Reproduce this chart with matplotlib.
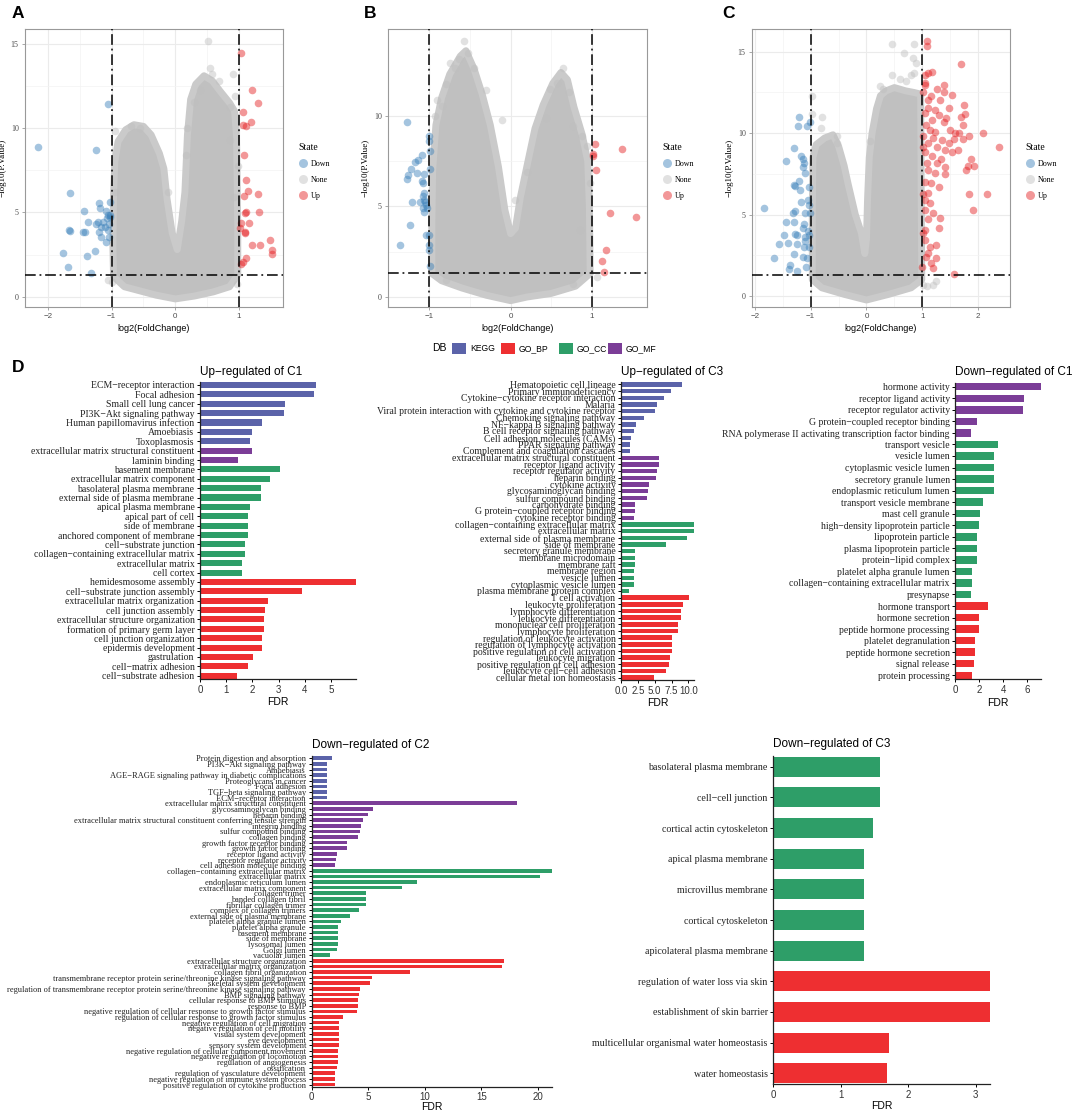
import numpy as np
import matplotlib.pyplot as plt
from matplotlib.lines import Line2D
from matplotlib.patches import Rectangle

W, H = 1072, 1110
SERIF = 'Liberation Serif'
SANS = 'Liberation Sans'

# ---------------- volcano data ----------------
# dense grey "None" cloud is drawn as its outline, plus the loose grey points
a_cloud_x = [0, -0.3, -0.6, -0.8, -0.97, -0.98, -0.97, -0.95, -0.9, -0.78, -0.65, -0.5, -0.38, -0.25, -0.18,
             -0.13, -0.05, 0.03, 0.1, 0.15, 0.19, 0.24, 0.32, 0.45, 0.58, 0.7, 0.85, 0.93, 0.96, 0.97, 0.98,
             0.98, 0.85, 0.6, 0.3]
a_cloud_y = [-0.12, 0.1, 0.4, 0.6, 1.2, 3, 6, 8, 9.2, 9.9, 10.2, 10.1, 9.6, 8.5, 7.6,
             5.8, 3.8, 2.8, 4.5, 6.2, 9.6, 11.7, 12.6, 13.1, 12.8, 12.2, 11.5, 11.0, 9.5, 7, 4,
             1.3, 0.6, 0.3, 0.05]
a_none_x = [0.52, 0.54, 0.58, 0.68, 0.9, 0.94, 0.86, -0.94, -0.7, -0.55, 0.29, 0.39, 0.19, 0.16, -0.11,
            -0.99, -1.06, 0.97, -0.94, 0.92, 0.86, 0.98]
a_none_y = [15.16, 13.57, 13.18, 12.78, 13.18, 11.89, 11.25, 9.81, 10.1, 10.0, 11.53, 12.28, 10.0, 8.42, 6.24,
            0.89, 0.99, 0.79, 6.24, 5.94, 9.31, 7.73]
a_down_x = [-2.16, -1.05, -1.25, -1.65, -1.2, -1.18, -1.44, -1.09, -1.03, -1.06, -1.03, -1.37, -1.22, -1.14,
            -1.24, -1.17, -1.1, -1.04, -1.67, -1.65, -1.45, -1.42, -1.2, -1.05, -1.16, -1.09, -1.04, -1.77,
            -1.39, -1.26, -1.69, -1.32, -1.02, -1.08]
a_down_y = [8.88, 11.43, 8.68, 6.18, 5.55, 5.25, 5.09, 5.09, 5.6, 4.85, 4.85, 4.46, 4.46, 4.46,
            4.32, 4.16, 4.16, 4.32, 3.96, 3.92, 3.82, 3.82, 3.82, 3.96, 3.57, 3.27, 3.57, 2.62,
            2.44, 2.71, 1.78, 1.39, 4.76, 4.66]
a_up_x = [1.03, 1.21, 1.29, 1.06, 1.06, 1.11, 1.19, 1.07, 1.11, 1.14, 1.29, 1.07, 1.11, 1.09, 1.31, 1.03,
          1.15, 1.02, 1.09, 1.1, 1.49, 1.21, 1.33, 1.52, 1.51, 1.11, 1.06, 1.03]
a_up_y = [14.42, 12.23, 11.49, 10.94, 10.2, 10.14, 10.34, 8.38, 6.93, 6.28, 6.08, 5.98, 5.03, 4.99, 5.03, 4.4,
          4.4, 4.1, 3.86, 3.76, 3.37, 3.07, 3.07, 2.77, 2.52, 2.28, 2.08, 1.94]

b_cloud_x = [0, -0.3, -0.6, -0.85, -0.97, -0.97, -0.96, -0.92, -0.85, -0.75, -0.62, -0.55, -0.45, -0.35, -0.25,
             -0.15, -0.07, 0.0, 0.06, 0.12, 0.2, 0.3, 0.4, 0.52, 0.62, 0.7, 0.78, 0.88, 0.95, 0.97, 0.98,
             0.8, 0.5, 0.2]
b_cloud_y = [-0.2, 0.1, 0.5, 0.9, 1.3, 4, 7, 9.5, 11.0, 12.3, 13.3, 13.6, 12.6, 11.2, 9.5,
             7.2, 4.8, 3.5, 3.8, 5.5, 7.2, 9.3, 10.6, 11.8, 12.4, 12.0, 10.5, 9.0, 7.5, 5, 1.3,
             0.6, 0.2, 0.0]
b_none_x = [-0.58, -0.53, -0.64, -0.75, -0.69, -0.45, -0.79, -0.3, -0.1, 0.64, 0.57, 0.72, 0.49, 0.43, 0.77,
            0.88, 0.94, -0.91, -0.85, -0.93, 0.98, 0.86, 0.77, 1.07, -0.79, 0.2, 0.06]
b_none_y = [14.14, 13.49, 13.16, 12.94, 12.62, 12.62, 11.74, 11.42, 9.8, 12.66, 11.83, 11.31, 11.46, 9.89, 9.43,
            8.87, 8.32, 10.9, 10.54, 9.98, 6.28, 3.7, 0.74, 1.11, 0.92, 6.93, 5.36]
b_down_x = [-1.27, -1.0, -1.01, -0.99, -1.09, -1.18, -1.14, -1.23, -0.99, -1.26, -1.07, -1.27, -1.09, -1.08,
            -1.07, -1.08, -1.07, -1.22, -1.11, -1.05, -1.04, -1.08, -1.07, -1.03, -1.24, -1.04, -1.0, -1.36,
            -1.0, -1.0, -0.99, -1.15]
b_down_y = [9.67, 8.87, 8.6, 8.04, 7.86, 7.43, 7.58, 7.06, 7.06, 6.75, 6.8, 6.52, 6.38, 6.28,
            5.73, 5.58, 5.36, 5.27, 5.27, 5.27, 5.08, 4.9, 4.68, 4.9, 3.97, 3.42, 3.42, 2.87,
            2.87, 2.62, 1.72, 6.84]
b_up_x = [1.04, 1.37, 1.01, 1.02, 1.05, 1.23, 1.54, 1.18, 1.12, 1.15]
b_up_y = [8.47, 8.17, 7.91, 7.76, 7.02, 4.66, 4.4, 2.62, 1.98, 1.39]

c_cloud_x = [0, -0.4, -0.8, -0.97, -0.97, -0.96, -0.9, -0.75, -0.6, -0.5, -0.4, -0.33, -0.2, -0.09, -0.03,
             0.0, 0.02, 0.05, 0.1, 0.18, 0.25, 0.35, 0.5, 0.7, 0.85, 0.97, 0.98, 0.99, 0.8, 0.4]
c_cloud_y = [-0.25, 0.1, 0.5, 1.0, 5, 8.5, 9.3, 9.7, 9.9, 9.2, 8.0, 6.9, 5.0, 3.85, 2.6,
             3.5, 6, 8.5, 10.0, 11.5, 12.3, 12.6, 12.8, 12.6, 12.5, 12.4, 6, 1.0, 0.5, 0.1]
c_none_x = [0.45, 0.85, 0.67, 0.84, 0.88, 0.45, 0.6, 0.7, 0.8, 0.85, 0.25, 0.3, -0.97, -0.98, -0.8, -0.81,
            -0.53, -0.52, 0.06, 1.08, 1.2, 1.25, 1.02]
c_none_y = [15.5, 15.5, 14.9, 14.6, 14.3, 13.6, 13.3, 13.2, 13.6, 13.7, 12.9, 12.7, 12.3, 11.2, 11.0, 10.3,
            9.8, 9.4, 9.5, 0.6, 0.7, 0.9, 0.7]
c_down_x = [-1.2, -1.23, -1.07, -1.02, -1.3, -1.45, -1.17, -1.13, -1.11, -1.14, -1.1, -1.2, -1.3, -1.28, -1.19,
            -1.03, -1.05, -1.17, -1.84, -1.03, -1.28, -1.32, -1.1, -1.01, -1.45, -1.3, -1.11, -1.13, -1.05,
            -1.28, -1.24, -1.47, -1.1, -1.03, -1.1, -1.56, -1.4, -1.25, -1.12, -1.03, -1.29, -1.14, -1.65,
            -1.07, -1.37, -1.39, -1.25, -1.08]
c_down_y = [11.02, 10.45, 10.41, 10.66, 9.06, 8.3, 8.57, 8.4, 8.16, 7.95, 7.54, 7.09, 6.82, 6.76, 6.52,
            6.72, 5.9, 5.8, 5.39, 5.59, 5.23, 5.08, 5.08, 5.08, 4.57, 4.57, 4.43, 4.2, 4.02,
            3.79, 3.75, 3.75, 3.65, 3.75, 3.4, 3.18, 3.24, 3.18, 3.03, 2.99, 2.58, 2.42, 2.32,
            2.32, 1.91, 1.64, 1.54, 1.8]
c_up_x = [1.09, 1.09, 1.69, 2.09, 2.37, 1.84, 1.76, 1.75, 1.54, 1.38, 1.38, 1.26, 1.18, 1.11, 1.04, 1.04,
          1.05, 1.01, 1.16, 1.32, 1.47, 1.23, 1.11, 1.04, 1.3, 1.43, 1.69, 1.73, 1.17, 1.38, 1.06, 1.5,
          1.59, 1.65, 1.56, 1.73, 1.02, 1.2, 1.35, 1.11, 1.26, 1.41, 1.54, 1.63, 1.05, 1.17, 1.33, 1.88,
          1.82, 1.79, 1.92, 1.08, 1.26, 1.41, 1.1, 1.23, 1.41, 1.04, 1.16, 1.3, 1.11, 1.84, 2.16, 1.9,
          1.02, 1.05, 1.14, 1.04, 1.2, 1.32, 1.11, 1.04, 1.3, 1.05, 1.14, 1.25, 1.11, 1.06, 1.24, 1.15,
          1.0, 1.2, 1.56, 1.02, 1.14, 1.23, 1.47, 1.11, 1.02]
c_up_y = [15.64, 15.33, 14.26, 10.04, 9.18, 9.8, 11.19, 11.74, 12.36, 12.97, 12.56, 12.7, 13.75, 13.69, 13.59, 13.07,
          12.97, 12.56, 12.3, 12.05, 11.54, 11.43, 11.54, 11.23, 11.13, 10.92, 11.02, 10.51, 10.82, 10.66, 10.51, 10.2,
          10.0, 10.0, 9.63, 9.63, 9.8, 9.69, 9.59, 9.39, 9.18, 8.98, 8.87, 8.98, 8.87, 8.57, 8.4, 8.4,
          7.99, 7.75, 7.99, 8.16, 8.16, 7.95, 7.75, 7.54, 7.48, 7.03, 6.93, 6.72, 6.31, 6.25, 6.25, 5.29,
          6.25, 5.9, 5.7, 5.29, 5.08, 4.77, 4.71, 4.06, 4.16, 3.44, 2.99, 3.14, 2.62, 2.42, 2.32, 2.01,
          1.8, 1.7, 1.35, 9.18, 10.2, 10.1, 9.39, 12.05, 3.85]

# ---------------- enrichment data ----------------
db_colors = {'KEGG': '#5B63A9', 'GO_BP': '#EE2F31', 'GO_CC': '#2E9E68', 'GO_MF': '#7B3D97'}

up_c1_terms = ['ECM\u2212receptor interaction', 'Focal adhesion', 'Small cell lung cancer',
               'PI3K\u2212Akt signaling pathway', 'Human papillomavirus infection', 'Amoebiasis', 'Toxoplasmosis',
               'extracellular matrix structural constituent', 'laminin binding',
               'basement membrane', 'extracellular matrix component', 'basolateral plasma membrane',
               'external side of plasma membrane', 'apical plasma membrane', 'apical part of cell',
               'side of membrane', 'anchored component of membrane', 'cell\u2212substrate junction',
               'collagen\u2212containing extracellular matrix', 'extracellular matrix', 'cell cortex',
               'hemidesmosome assembly', 'cell\u2212substrate junction assembly', 'extracellular matrix organization',
               'cell junction assembly', 'extracellular structure organization', 'formation of primary germ layer',
               'cell junction organization', 'epidermis development', 'gastrulation', 'cell\u2212matrix adhesion',
               'cell\u2212substrate adhesion']
up_c1_fdr = [4.43, 4.33, 3.24, 3.19, 2.35, 1.97, 1.92, 1.97, 1.46, 3.07, 2.68, 2.33, 2.33, 1.91, 1.82, 1.82,
             1.82, 1.73, 1.73, 1.59, 1.59, 5.95, 3.89, 2.60, 2.49, 2.46, 2.43, 2.35, 2.35, 2.02, 1.84, 1.40]
up_c1_db = ['KEGG'] * 7 + ['GO_MF'] * 2 + ['GO_CC'] * 12 + ['GO_BP'] * 11

up_c3_terms = ['Hematopoietic cell lineage', 'Primary immunodeficiency', 'Cytokine\u2212cytokine receptor interaction',
               'Malaria', 'Viral protein interaction with cytokine and cytokine receptor', 'Chemokine signaling pathway',
               'NF\u2212kappa B signaling pathway', 'B cell receptor signaling pathway', 'Cell adhesion molecules (CAMs)',
               'PPAR signaling pathway', 'Complement and coagulation cascades',
               'extracellular matrix structural constituent', 'receptor ligand activity', 'receptor regulator activity',
               'heparin binding', 'cytokine activity', 'glycosaminoglycan binding', 'sulfur compound binding',
               'carbohydrate binding', 'G protein\u2212coupled receptor binding', 'cytokine receptor binding',
               'collagen\u2212containing extracellular matrix', 'extracellular matrix', 'external side of plasma membrane',
               'side of membrane', 'secretory granule membrane', 'membrane microdomain', 'membrane raft',
               'membrane region', 'vesicle lumen', 'cytoplasmic vesicle lumen', 'plasma membrane protein complex',
               'T cell activation', 'leukocyte proliferation', 'lymphocyte differentiation', 'leukocyte differentiation',
               'mononuclear cell proliferation', 'lymphocyte proliferation', 'regulation of leukocyte activation',
               'regulation of lymphocyte activation', 'positive regulation of cell activation', 'leukocyte migration',
               'positive regulation of cell adhesion', 'leukocyte cell\u2212cell adhesion', 'cellular metal ion homeostasis']
up_c3_fdr = [9.0, 7.4, 6.4, 5.35, 5.05, 3.4, 2.3, 2.0, 1.45, 1.4, 1.4,
             5.6, 5.6, 5.4, 5.2, 4.15, 4.05, 3.8, 2.1, 2.05, 2.0,
             10.9, 10.9, 9.75, 6.7, 2.1, 2.1, 2.1, 2.0, 1.9, 1.9, 1.25,
             10.15, 9.15, 8.9, 8.95, 8.4, 8.4, 7.6, 7.6, 7.6, 7.3, 7.1, 6.7, 4.85]
up_c3_db = ['KEGG'] * 11 + ['GO_MF'] * 10 + ['GO_CC'] * 11 + ['GO_BP'] * 13

down_c1_terms = ['hormone activity', 'receptor ligand activity', 'receptor regulator activity',
                 'G protein\u2212coupled receptor binding', 'RNA polymerase II activating transcription factor binding',
                 'transport vesicle', 'vesicle lumen', 'cytoplasmic vesicle lumen', 'secretory granule lumen',
                 'endoplasmic reticulum lumen', 'transport vesicle membrane', 'mast cell granule',
                 'high\u2212density lipoprotein particle', 'lipoprotein particle', 'plasma lipoprotein particle',
                 'protein\u2212lipid complex', 'platelet alpha granule lumen', 'collagen\u2212containing extracellular matrix',
                 'presynapse', 'hormone transport', 'hormone secretion', 'peptide hormone processing',
                 'platelet degranulation', 'peptide hormone secretion', 'signal release', 'protein processing']
down_c1_fdr = [7.14, 5.75, 5.67, 1.8, 1.3, 3.58, 3.25, 3.25, 3.25, 3.25, 2.28, 2.08, 2.0, 1.8, 1.8, 1.8,
               1.42, 1.42, 1.3, 2.72, 1.94, 1.94, 1.64, 1.64, 1.55, 1.42]
down_c1_db = ['GO_MF'] * 5 + ['GO_CC'] * 14 + ['GO_BP'] * 7

down_c2_terms = ['Protein digestion and absorption', 'PI3K\u2212Akt signaling pathway', 'Amoebiasis',
                 'AGE\u2212RAGE signaling pathway in diabetic complications', 'Proteoglycans in cancer', 'Focal adhesion',
                 'TGF\u2212beta signaling pathway', 'ECM\u2212receptor interaction',
                 'extracellular matrix structural constituent', 'glycosaminoglycan binding', 'heparin binding',
                 'extracellular matrix structural constituent conferring tensile strength', 'integrin binding',
                 'sulfur compound binding', 'collagen binding', 'growth factor receptor binding', 'growth factor binding',
                 'receptor ligand activity', 'receptor regulator activity', 'cell adhesion molecule binding',
                 'collagen\u2212containing extracellular matrix', 'extracellular matrix', 'endoplasmic reticulum lumen',
                 'extracellular matrix component', 'collagen trimer', 'banded collagen fibril', 'fibrillar collagen trimer',
                 'complex of collagen trimers', 'external side of plasma membrane', 'platelet alpha granule lumen',
                 'platelet alpha granule', 'basement membrane', 'side of membrane', 'lysosomal lumen', 'Golgi lumen',
                 'vacuolar lumen',
                 'extracellular structure organization', 'extracellular matrix organization', 'collagen fibril organization',
                 'transmembrane receptor protein serine/threonine kinase signaling pathway', 'skeletal system development',
                 'regulation of transmembrane receptor protein serine/threonine kinase signaling pathway',
                 'BMP signaling pathway', 'cellular response to BMP stimulus', 'response to BMP',
                 'negative regulation of cellular response to growth factor stimulus',
                 'regulation of cellular response to growth factor stimulus', 'negative regulation of cell migration',
                 'negative regulation of cell motility', 'visual system development', 'eye development',
                 'sensory system development', 'negative regulation of cellular component movement',
                 'negative regulation of locomotion', 'regulation of angiogenesis', 'ossification',
                 'regulation of vasculature development', 'negative regulation of immune system process',
                 'positive regulation of cytokine production']
down_c2_fdr = [1.8, 1.39, 1.39, 1.39, 1.39, 1.39, 1.39, 1.39,
               18.1, 5.45, 5.0, 4.58, 4.34, 4.28, 4.13, 3.16, 3.16, 2.23, 2.17, 2.1,
               21.2, 20.15, 9.34, 8.0, 4.85, 4.82, 4.82, 4.19, 3.37, 2.62, 2.32, 2.32, 2.32, 2.32, 2.23, 1.63,
               17.0, 16.8, 8.73, 5.33, 5.12, 4.25, 4.22, 4.1, 4.1, 4.04, 2.77, 2.44, 2.44, 2.44, 2.44, 2.41,
               2.35, 2.32, 2.32, 2.29, 2.1, 2.08, 2.08]
down_c2_db = ['KEGG'] * 8 + ['GO_MF'] * 12 + ['GO_CC'] * 16 + ['GO_BP'] * 23

down_c3_terms = ['basolateral plasma membrane', 'cell\u2212cell junction', 'cortical actin cytoskeleton',
                 'apical plasma membrane', 'microvillus membrane', 'cortical cytoskeleton',
                 'apicolateral plasma membrane', 'regulation of water loss via skin', 'establishment of skin barrier',
                 'multicellular organismal water homeostasis', 'water homeostasis']
down_c3_fdr = [1.577, 1.577, 1.48, 1.34, 1.34, 1.34, 1.34, 3.22, 3.22, 1.71, 1.69]
down_c3_db = ['GO_CC'] * 7 + ['GO_BP'] * 4


def px(l, t, r, b):
    return [l / W, 1 - b / H, (r - l) / W, (b - t) / H]


fig = plt.figure(figsize=(W / 100, H / 100), dpi=100)

# ---------------- volcano panels ----------------
state_colors = {'Down': '#377EB8', 'None': '#BEBEBE', 'Up': '#E41A1C'}


def volcano(rect, cloud, none, down, up, xlim, ylim, xticks, yticks):
    ax = fig.add_axes(rect)
    ax.set_xlim(xlim)
    ax.set_ylim(ylim)
    ax.set_xticks(xticks)
    ax.set_yticks(yticks)
    ax.set_xticks([(a + b) / 2 for a, b in zip(xticks[:-1], xticks[1:])], minor=True)
    ax.set_yticks([(a + b) / 2 for a, b in zip(yticks[:-1], yticks[1:])], minor=True)
    ax.grid(True, which='major', color='#EBEBEB', lw=0.8)
    ax.grid(True, which='minor', color='#F3F3F3', lw=0.5)
    ax.set_axisbelow(True)
    for s in ax.spines.values():
        s.set_color('#999999')
        s.set_linewidth(0.8)
    ax.tick_params(which='major', length=2.5, width=0.6, color='#999999', labelsize=5.8,
                   labelcolor='#4D4D4D', pad=2)
    ax.tick_params(which='minor', length=0)
    for t in ax.get_yticklabels():
        t.set_fontfamily(SERIF)
    for t in ax.get_xticklabels():
        t.set_fontfamily(SANS)
    ax.fill(cloud[0], cloud[1], fc='#C0C0C0', ec='#CACACA', lw=5, joinstyle='round', zorder=2)
    kw = dict(s=30, alpha=0.45, linewidths=0, zorder=3)
    ax.scatter(none[0], none[1], c=state_colors['None'], **kw)
    ax.scatter(down[0], down[1], c=state_colors['Down'], **kw)
    ax.scatter(up[0], up[1], c=state_colors['Up'], **kw)
    ls = (0, (7, 2.5, 1.2, 2.5))
    ax.axvline(-1, color='black', lw=1.1, ls=ls, zorder=4)
    ax.axvline(1, color='black', lw=1.1, ls=ls, zorder=4)
    ax.axhline(-np.log10(0.05), color='black', lw=1.1, ls=ls, zorder=4)
    ax.set_xlabel('log2(FoldChange)', fontsize=6.5, fontfamily=SANS, labelpad=3)
    ax.set_ylabel('\u2212log10(P.Value)', fontsize=6.5, fontfamily=SERIF, labelpad=3)
    handles = [Line2D([], [], marker='o', ls='', color=state_colors[k], alpha=0.45, markersize=6.5, mew=0)
               for k in ['Down', 'None', 'Up']]
    ax.legend(handles, ['Down', 'None', 'Up'], title='State', loc='upper left', bbox_to_anchor=(1.045, 0.605),
              frameon=False, prop={'family': SERIF, 'size': 5.8},
              title_fontproperties={'family': SERIF, 'size': 7}, alignment='left',
              handletextpad=0.5, labelspacing=1.0, handlelength=1.0, borderpad=0)
    return ax


volcano(px(25, 29, 283, 307), (a_cloud_x, a_cloud_y), (a_none_x, a_none_y), (a_down_x, a_down_y),
        (a_up_x, a_up_y), (-2.36, 1.69), (-0.6, 15.87), [-2, -1, 0, 1], [0, 5, 10, 15])
volcano(px(388, 29, 647, 307), (b_cloud_x, b_cloud_y), (b_none_x, b_none_y), (b_down_x, b_down_y),
        (b_up_x, b_up_y), (-1.51, 1.68), (-0.55, 14.8), [-1, 0, 1], [0, 5, 10])
volcano(px(752, 29, 1010, 307), (c_cloud_x, c_cloud_y), (c_none_x, c_none_y), (c_down_x, c_down_y),
        (c_up_x, c_up_y), (-2.05, 2.57), (-0.68, 16.4), [-2, -1, 0, 1, 2], [0, 5, 10, 15])


# ---------------- enrichment bar panels ----------------
def bars(rect, terms, fdr, db, title, title_y, xticks, ticklabels, fs, xlab_pad=2):
    ax = fig.add_axes(rect)
    n = len(terms)
    y = np.arange(n)[::-1]
    ax.barh(y, fdr, height=0.65, color=[db_colors[d] for d in db], zorder=2)
    ax.set_ylim(-0.35, n - 1 + 0.35)
    ax.set_xlim(0, max(fdr))
    ax.set_yticks(y)
    ax.set_yticklabels(terms, fontfamily=SERIF, fontsize=fs, color='#222222')
    ax.set_xticks(xticks)
    ax.set_xticklabels(ticklabels, fontfamily=SANS, fontsize=7, color='#333333')
    ax.tick_params(axis='y', length=2.5, width=0.7, pad=1.5)
    ax.tick_params(axis='x', length=2.5, width=0.7, pad=1.5)
    for s in ['top', 'right']:
        ax.spines[s].set_visible(False)
    for s in ['left', 'bottom']:
        ax.spines[s].set_linewidth(0.9)
        ax.spines[s].set_color('#222222')
    ax.set_xlabel('FDR', fontfamily=SANS, fontsize=7.5, labelpad=xlab_pad)
    fig.text(rect[0], 1 - title_y / H, title, fontfamily=SANS, fontsize=8.5, ha='left', va='center')
    return ax


bars(px(200, 381.7, 356, 679), up_c1_terms, up_c1_fdr, up_c1_db, 'Up\u2212regulated of C1', 371.5,
     [0, 1, 2, 3, 4, 5], ['0', '1', '2', '3', '4', '5'], 7)
bars(px(621, 382, 694.4, 680), up_c3_terms, up_c3_fdr, up_c3_db, 'Up\u2212regulated of C3', 371.5,
     [0, 2.5, 5, 7.5, 10], ['0.0', '2.5', '5.0', '7.5', '10.0'], 7)
bars(px(955.3, 382.7, 1041, 679.3), down_c1_terms, down_c1_fdr, down_c1_db, 'Down\u2212regulated of C1', 371.5,
     [0, 2, 4, 6], ['0', '2', '4', '6'], 7)
bars(px(311.5, 756.3, 551.7, 1086.5), down_c2_terms, down_c2_fdr, down_c2_db, 'Down\u2212regulated of C2', 745,
     [0, 5, 10, 15, 20], ['0', '5', '10', '15', '20'], 6, xlab_pad=0)
bars(px(773.3, 756, 990.4, 1084), down_c3_terms, down_c3_fdr, down_c3_db, 'Down\u2212regulated of C3', 744.5,
     [0, 1, 2, 3], ['0', '1', '2', '3'], 7.2, xlab_pad=1)

# ---------------- DB legend ----------------
fig.text(432 / W, 1 - 348 / H, 'DB', fontfamily=SANS, fontsize=7.5, ha='left', va='center')
for name, x0 in [('KEGG', 452), ('GO_BP', 500.5), ('GO_CC', 559), ('GO_MF', 608)]:
    fig.patches.append(Rectangle((x0 / W, 1 - 354 / H), 14 / W, 11.5 / H, transform=fig.transFigure,
                                 fc=db_colors[name], ec='none'))
    fig.text((x0 + 18) / W, 1 - 348.5 / H, name, fontfamily=SANS, fontsize=6.2, ha='left', va='center')

# ---------------- panel letters ----------------
for letter, x, y in [('A', 12, 13), ('B', 364, 13), ('C', 722, 13), ('D', 12, 368)]:
    fig.text(x / W, 1 - y / H, letter, fontfamily=SANS, fontweight='bold', fontsize=12.5, ha='left', va='center')

fig.savefig('out.png', dpi=100)
